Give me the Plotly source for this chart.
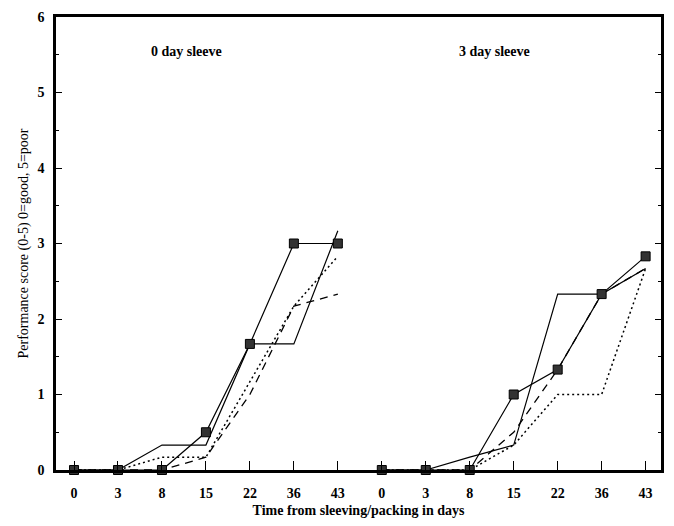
import plotly.graph_objects as go

days = ["0", "3", "8", "15", "22", "36", "43"]
panel_names = ["0 day sleeve", "3 day sleeve"]

# panel 1: 0 day sleeve
p0_marked = [0, 0, 0, 0.5, 1.67, 3.0, 3.0]
p0_solid = [0, 0, 0.33, 0.33, 1.67, 1.67, 3.17]
p0_dotted = [0, 0, 0.17, 0.17, 1.17, 2.17, 2.83]
p0_dashed = [0, 0, 0, 0.17, 1.0, 2.17, 2.33]

# panel 2: 3 day sleeve
p3_marked = [0, 0, 0, 1.0, 1.33, 2.33, 2.83]
p3_solid = [0, 0, 0.17, 0.33, 2.33, 2.33, 2.67]
p3_dotted = [0, 0, 0, 0.33, 1.0, 1.0, 2.67]
p3_dashed = [0, 0, 0, 0.5, 1.33, 2.33, 2.67]

FONT = "Liberation Serif"
n = len(days)
xs = [list(range(0, n)), list(range(n, 2 * n))]
ticktext = days + days

fig = go.Figure()

panels = [
    (p0_marked, p0_solid, p0_dotted, p0_dashed),
    (p3_marked, p3_solid, p3_dotted, p3_dashed),
]

for pi, (mk, so, do, da) in enumerate(panels):
    x = xs[pi]
    fig.add_trace(go.Scatter(x=x, y=da, mode="lines",
                             line=dict(color="black", width=1.3, dash="8px,6px"),
                             showlegend=False, cliponaxis=False))
    fig.add_trace(go.Scatter(x=x, y=do, mode="lines",
                             line=dict(color="black", width=1.5, dash="2px,3px"),
                             showlegend=False, cliponaxis=False))
    fig.add_trace(go.Scatter(x=x, y=so, mode="lines",
                             line=dict(color="black", width=1.2),
                             showlegend=False, cliponaxis=False))
    fig.add_trace(go.Scatter(x=x, y=mk, mode="lines+markers",
                             line=dict(color="black", width=1.2),
                             marker=dict(symbol="square", size=9, color="#333333",
                                         line=dict(color="black", width=1)),
                             showlegend=False, cliponaxis=False))

for pi, name in enumerate(panel_names):
    fig.add_annotation(x=xs[pi][0] + 2.56, y=5.54, text=name, showarrow=False,
                       xref="x", yref="y",
                       font=dict(family=FONT, size=14, color="black", weight="bold"))

fig.update_layout(
    width=674, height=526,
    margin=dict(l=56, r=10, t=12, b=56),
    paper_bgcolor="white", plot_bgcolor="white",
    font=dict(family=FONT, color="black", size=14),
    xaxis=dict(
        range=[-0.41, 13.35],
        tickmode="array", tickvals=list(range(2 * n)), ticktext=ticktext,
        ticks="inside", ticklen=9, tickwidth=1, tickcolor="black",
        showline=True, linewidth=2.5, linecolor="black", mirror=True,
        showgrid=False, zeroline=False, ticklabelstandoff=8,
        tickfont=dict(family=FONT, size=14, weight="bold"),
        title=dict(text="Time from sleeving/packing in days",
                   font=dict(family=FONT, size=14, weight="bold"), standoff=6),
    ),
    yaxis=dict(
        range=[0, 6], dtick=1,
        ticks="inside", ticklen=6, tickwidth=1, tickcolor="black",
        minor=dict(ticks="inside", ticklen=3, dtick=0.5, tickcolor="black"),
        showline=True, linewidth=2.5, linecolor="black", mirror="ticks",
        showgrid=False, zeroline=False, ticklabelstandoff=6,
        tickfont=dict(family=FONT, size=14, weight="bold"),
        title=dict(text="Performance score (0-5) 0=good, 5=poor",
                   font=dict(family=FONT, size=14), standoff=6),
    ),
)

fig.write_html("out.html")
